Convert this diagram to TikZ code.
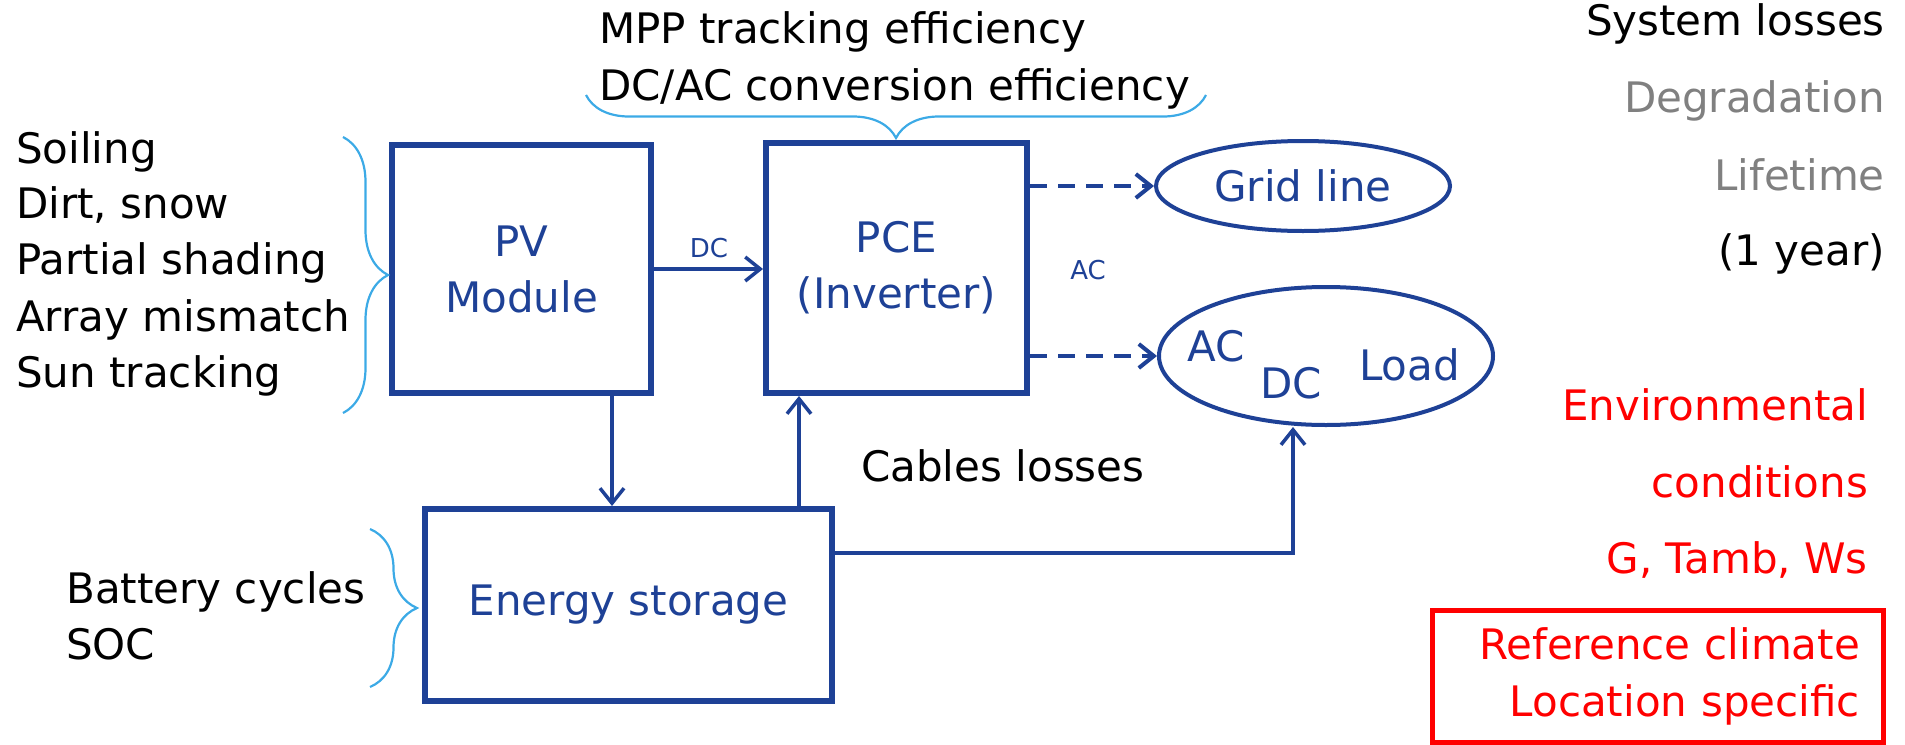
\documentclass[tikz,border=0pt]{standalone}
\usepackage{fontspec}
\setmainfont{DejaVu Sans}
\usetikzlibrary{arrows.meta,decorations.pathreplacing,shapes.geometric}
\definecolor{pvblue}{RGB}{30,65,150}
\definecolor{brblue}{RGB}{60,170,230}
\definecolor{lossgray}{RGB}{128,128,128}
\definecolor{envred}{RGB}{255,0,0}
\begin{document}
\begin{tikzpicture}[x=1pt,y=-1pt,
  bigtxt/.style={font=\fontsize{42}{57}\selectfont, inner sep=0pt},
  boxtxt/.style={font=\fontsize{42}{56}\selectfont, text=pvblue},
  block/.style={draw=pvblue, line width=6pt, rectangle, inner sep=0pt, align=center, boxtxt},
  oval/.style={draw=pvblue, line width=4pt, ellipse, inner sep=0pt, boxtxt},
  link/.style={draw=pvblue, line width=3.5pt, -{Straight Barb[length=15pt,width=24pt]}},
  dlink/.style={link, line width=4pt, dash pattern=on 17pt off 11pt},
  smalllbl/.style={font=\fontsize{26}{30}\selectfont, text=pvblue, inner sep=0pt},
  bracebr/.style={draw=brblue, line width=2.2pt, decorate},
]
\useasboundingbox (0,0) rectangle (1905,744);

% blocks
\node[block, minimum width=259pt, minimum height=248pt] (pv) at (521.5,269) {PV\\Module};
\node[block, minimum width=261pt, minimum height=250pt] (pce) at (896.5,268) {PCE\\(Inverter)};
\node[block, minimum width=407pt, minimum height=192pt] (es) at (628.5,605) {Energy storage};
\node[oval, minimum width=294pt, minimum height=90pt] (grid) at (1303,186) {Grid line};
\node[oval, minimum width=334pt, minimum height=138pt] (load) at (1326,356) {};
\node[boxtxt, anchor=base west, inner sep=0pt] (ldac) at (1187,361) {AC};
\node[boxtxt, anchor=base west, inner sep=0pt] (lddc) at (1260,398) {DC};
\node[boxtxt, anchor=base west, inner sep=0pt] (ldload) at (1359,380) {Load};

% connectors
\draw[link] (pv.east) -- (pce.west |- pv.east);
\draw[link] ([xshift=90.5pt]pv.south) -- ([xshift=90.5pt]pv.south |- es.north);
\draw[link] ([xshift=-97.5pt]pce.south |- es.north) -- ([xshift=-97.5pt]pce.south);
\draw[link] ([yshift=52pt]es.east) -| ([xshift=-33pt]load.south);
\draw[dlink] (pce.east |- grid.west) -- (grid.west);
\draw[dlink] (pce.east |- load.west) -- (load.west);

% small labels
\node[smalllbl] (dclbl) at (709,248) {DC};
\node[smalllbl] (aclbl) at (1088,270) {AC};
\node[bigtxt, anchor=base west] (cables) at (861,481) {Cables losses};

% top texts and brace
\node[bigtxt, anchor=base west] (mpp) at (599,43) {MPP tracking efficiency};
\node[bigtxt, anchor=base west] (dcac) at (599,100) {DC/AC conversion efficiency};
\draw[bracebr, decoration={brace, amplitude=43pt}] (1206,95) -- (586,95);

% left lists and braces
\node[bigtxt, anchor=base west] (l1) at (16,163) {Soiling};
\node[bigtxt, anchor=base west] (l2) at (16,218) {Dirt, snow};
\node[bigtxt, anchor=base west] (l3) at (16,274) {Partial shading};
\node[bigtxt, anchor=base west] (l4) at (16,331) {Array mismatch};
\node[bigtxt, anchor=base west] (l5) at (16,387) {Sun tracking};
\draw[bracebr, decoration={brace, amplitude=45pt}] (343,137) -- (343,413);

\node[bigtxt, anchor=base west] (b1) at (66,603) {Battery cycles};
\node[bigtxt, anchor=base west] (b2) at (66,659) {SOC};
\draw[bracebr, decoration={brace, amplitude=47pt}] (370,529) -- (370,687);

% right texts
\node[bigtxt, anchor=base east] (r1) at (1885,35) {System losses};
\node[bigtxt, anchor=base east, text=lossgray] (r2) at (1885,112) {Degradation};
\node[bigtxt, anchor=base east, text=lossgray] (r3) at (1885,190) {Lifetime};
\node[bigtxt, anchor=base east] (r4) at (1885,265) {(1 year)};
\node[bigtxt, anchor=base east, text=envred] (e1) at (1868,420) {Environmental};
\node[bigtxt, anchor=base east, text=envred] (e2) at (1868,497) {conditions};
\node[bigtxt, anchor=base east, text=envred] (e3) at (1868,573) {G, Tamb, Ws};
\node[draw=envred, line width=5pt, minimum width=451pt, minimum height=132pt, inner xsep=23pt, inner ysep=0pt, text width=405pt, align=right, bigtxt, text=envred] (refbox) at (1657.5,676) {Reference climate\\Location specific};
\end{tikzpicture}
\end{document}
